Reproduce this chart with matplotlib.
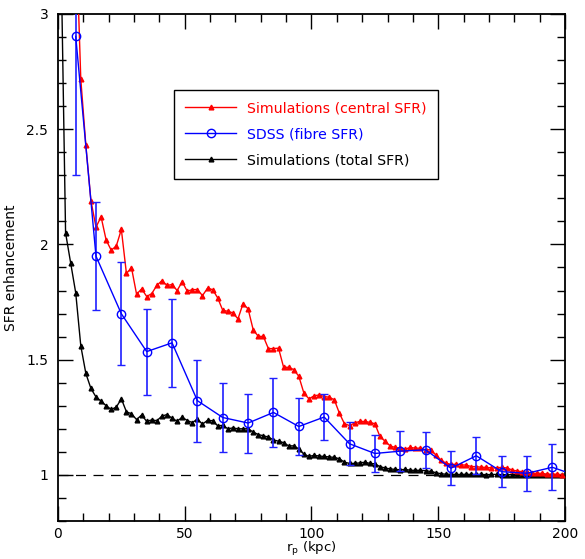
import matplotlib
matplotlib.use("Agg")
import matplotlib.pyplot as plt
from matplotlib.ticker import MultipleLocator, FormatStrFormatter

# separation bins (kpc) for the simulation curves
r_sim = list(range(1, 200, 2))

sim_central = [
    5.0, 4.5, 4.0, 3.4, 2.717, 2.43, 2.19, 2.075, 2.12, 2.019,
    1.975, 1.993, 2.065, 1.874, 1.899, 1.784, 1.807, 1.774, 1.787, 1.822,
    1.843, 1.822, 1.826, 1.80, 1.838, 1.797, 1.804, 1.804, 1.778, 1.81,
    1.804, 1.768, 1.714, 1.71, 1.703, 1.677, 1.743, 1.72, 1.63, 1.601,
    1.601, 1.548, 1.548, 1.55, 1.467, 1.467, 1.457, 1.428, 1.355, 1.33,
    1.343, 1.347, 1.34, 1.337, 1.326, 1.268, 1.222, 1.214, 1.225, 1.232,
    1.232, 1.228, 1.222, 1.167, 1.146, 1.126, 1.119, 1.116, 1.112, 1.119,
    1.116, 1.116, 1.109, 1.109, 1.087, 1.065, 1.051, 1.046, 1.046, 1.043,
    1.043, 1.036, 1.036, 1.033, 1.033, 1.03, 1.03, 1.033, 1.03, 1.022,
    1.017, 1.014, 1.012, 1.007, 1.007, 1.007, 1.003, 1.004, 1.003, 1.001,
]

sim_total = [
    3.4, 2.05, 1.92, 1.79, 1.56, 1.44, 1.375, 1.338, 1.32, 1.30,
    1.284, 1.294, 1.33, 1.274, 1.265, 1.24, 1.26, 1.232, 1.239, 1.235,
    1.255, 1.262, 1.246, 1.233, 1.25, 1.236, 1.227, 1.242, 1.22, 1.237,
    1.235, 1.213, 1.215, 1.20, 1.204, 1.20, 1.20, 1.20, 1.186, 1.175,
    1.17, 1.164, 1.152, 1.146, 1.14, 1.126, 1.126, 1.113, 1.09, 1.08,
    1.085, 1.082, 1.08, 1.078, 1.076, 1.07, 1.055, 1.05, 1.05, 1.052,
    1.055, 1.05, 1.048, 1.036, 1.03, 1.026, 1.024, 1.022, 1.024, 1.02,
    1.02, 1.02, 1.018, 1.015, 1.01, 1.005, 1.003, 1.003, 1.002, 1.002,
    1.003, 1.002, 1.002, 1.002, 1.001, 1.002, 1.002, 1.001, 1.001, 1.001,
    1.001, 1.001, 1.0, 1.001, 1.0, 1.0, 1.0, 1.0, 1.0, 1.0,
]

# SDSS fibre SFR enhancement
r_sdss = [7, 15, 25, 35, 45, 55, 65, 75, 85, 95, 105,
          115, 125, 135, 145, 155, 165, 175, 185, 195, 205]
sdss = [2.903, 1.949, 1.699, 1.535, 1.573, 1.322, 1.249, 1.225, 1.271, 1.21, 1.251,
        1.135, 1.093, 1.103, 1.109, 1.029, 1.083, 1.014, 1.007, 1.033, 0.995]
sdss_err = [0.6, 0.235, 0.224, 0.187, 0.19, 0.178, 0.149, 0.128, 0.148, 0.125, 0.10,
            0.094, 0.08, 0.087, 0.078, 0.075, 0.08, 0.067, 0.076, 0.1, 0.1]


def main():
    fig = plt.figure(figsize=(5.85, 5.59), dpi=100)
    ax = fig.add_axes([0.0991, 0.068, 0.8667, 0.907])

    ax.axhline(1.0, color="black", lw=0.9, ls=(0, (8, 6)), zorder=1)

    l_red, = ax.plot(r_sim, sim_central, color="red", lw=1.0, marker="^",
                     ms=3.4, label="Simulations (central SFR)", zorder=3)
    ax.errorbar(r_sdss, sdss, yerr=sdss_err, fmt="none", ecolor="#1f1fff",
                elinewidth=1.2, capsize=3, capthick=1.0, zorder=4)
    l_blue, = ax.plot(r_sdss, sdss, color="blue", lw=1.0, marker="o", ms=6,
                      mfc="none", mec="blue", mew=1.0,
                      label="SDSS (fibre SFR)", zorder=5)
    l_black, = ax.plot(r_sim, sim_total, color="black", lw=1.0, marker="^",
                       ms=3.4, label="Simulations (total SFR)", zorder=2)

    ax.set_xlim(0, 200)
    ax.set_ylim(0.8, 3.0)
    ax.xaxis.set_major_locator(MultipleLocator(50))
    ax.xaxis.set_minor_locator(MultipleLocator(10))
    ax.yaxis.set_major_locator(MultipleLocator(0.5))
    ax.yaxis.set_minor_locator(MultipleLocator(0.1))
    ax.yaxis.set_major_formatter(FormatStrFormatter("%g"))
    ax.tick_params(which="both", direction="in", top=True, right=True,
                   labelsize=10, width=1.0)
    ax.tick_params(which="major", length=11, pad=7)
    ax.tick_params(axis="x", which="major", pad=4)
    ax.tick_params(which="minor", length=5.5)
    for s in ax.spines.values():
        s.set_linewidth(1.3)

    ax.set_xlabel(r"r$_\mathrm{p}$ (kpc)", fontsize=9.5)
    ax.set_ylabel("SFR enhancement", fontsize=10)
    ax.xaxis.set_label_coords(0.5, -0.037)
    ax.yaxis.set_label_coords(-0.079, 0.5)

    leg = ax.legend(handles=[l_red, l_blue, l_black], loc="upper left",
                    bbox_to_anchor=(0.229, 0.850), fontsize=10.2,
                    handlelength=3.6, handletextpad=0.75, labelspacing=0.85,
                    borderpad=0.8, borderaxespad=0.0, fancybox=False,
                    framealpha=1.0, edgecolor="black", markerscale=1.0)
    leg.get_frame().set_linewidth(1.0)
    for txt, col in zip(leg.get_texts(), ["red", "blue", "black"]):
        txt.set_color(col)

    fig.savefig("out.png", dpi=100)


if __name__ == "__main__":
    main()
